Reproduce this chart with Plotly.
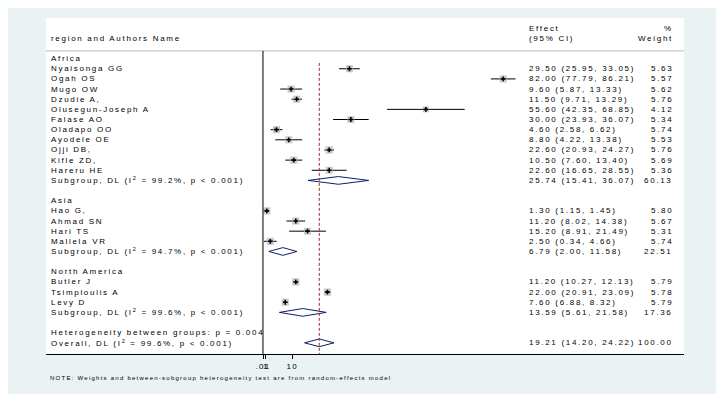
"""Forest plot: effect estimates by region (random-effects, DL)"""
import plotly.graph_objects as go

# ---- data ----
africa_names = ["Nyaisonga GG", "Ogah OS", "Mugo OW", "Dzudie A,", "Olusegun-Joseph A",
                "Falase AO", "Oladapo OO", "Ayodele OE", "Ojji DB,", "Kifle ZD,", "Hareru HE"]
africa_est = [29.50, 82.00, 9.60, 11.50, 55.60, 30.00, 4.60, 8.80, 22.60, 10.50, 22.60]
africa_lo = [25.95, 77.79, 5.87, 9.71, 42.35, 23.93, 2.58, 4.22, 20.93, 7.60, 16.65]
africa_hi = [33.05, 86.21, 13.33, 13.29, 68.85, 36.07, 6.62, 13.38, 24.27, 13.40, 28.55]
africa_wt = [5.63, 5.57, 5.62, 5.76, 4.12, 5.34, 5.74, 5.53, 5.76, 5.69, 5.36]

asia_names = ["Hao G,", "Ahmad SN", "Hari TS", "Mallela VR"]
asia_est = [1.30, 11.20, 15.20, 2.50]
asia_lo = [1.15, 8.02, 8.91, 0.34]
asia_hi = [1.45, 14.38, 21.49, 4.66]
asia_wt = [5.80, 5.67, 5.31, 5.74]

na_names = ["Butler J", "Tsimploulis A", "Levy D"]
na_est = [11.20, 22.00, 7.60]
na_lo = [10.27, 20.91, 6.88]
na_hi = [12.13, 23.09, 8.32]
na_wt = [5.79, 5.78, 5.79]

region_names = ["Africa", "Asia", "North America"]
sub_labels = ["Subgroup, DL (I<sup>2</sup> = 99.2%, p < 0.001)",
              "Subgroup, DL (I<sup>2</sup> = 94.7%, p < 0.001)",
              "Subgroup, DL (I<sup>2</sup> = 99.6%, p < 0.001)"]
sub_est = [25.74, 6.79, 13.59]
sub_lo = [15.41, 2.00, 5.61]
sub_hi = [36.07, 11.58, 21.58]
sub_wt = [60.13, 22.51, 17.36]

overall_label = "Overall, DL (I<sup>2</sup> = 99.6%, p < 0.001)"
overall_est, overall_lo, overall_hi, overall_wt = 19.21, 14.20, 24.22, 100.00
het_text = "Heterogeneity between groups: p = 0.004"
note_text = "NOTE: Weights and between-subgroup heterogeneity test are from random-effects model"

tick_vals = [0.01, 1, 10]
tick_text = [".01", "1", "10"]

BG = "#eaf2f3"
FONT = "Liberation Sans"


def wide(s, sp=1.7):
    # stata-like loose letter spacing
    return f'<span style="letter-spacing:{sp}px">{s}</span>'


# ---- lay out rows ----
groups = [
    (africa_names, africa_est, africa_lo, africa_hi, africa_wt),
    (asia_names, asia_est, asia_lo, asia_hi, asia_wt),
    (na_names, na_est, na_lo, na_hi, na_wt),
]

study_y, study_e, study_l, study_h, study_w = [], [], [], [], []
labels = []   # (row, text)
effects = []  # (row, effect text, weight text)
diamonds = []  # (row, est, lo, hi)

row = 0
for g, (names, est, lo, hi, wt) in enumerate(groups):
    labels.append((row, region_names[g]))
    row += 1
    for n, e, l, h, w in zip(names, est, lo, hi, wt):
        labels.append((row, n))
        effects.append((row, f"{e:.2f} ({l:.2f}, {h:.2f})", f"{w:.2f}"))
        study_y.append(row)
        study_e.append(e)
        study_l.append(l)
        study_h.append(h)
        study_w.append(w)
        row += 1
    labels.append((row, sub_labels[g]))
    effects.append((row, f"{sub_est[g]:.2f} ({sub_lo[g]:.2f}, {sub_hi[g]:.2f})", f"{sub_wt[g]:.2f}"))
    diamonds.append((row, sub_est[g], sub_lo[g], sub_hi[g]))
    row += 2

labels.append((row, het_text))
row += 1
labels.append((row, overall_label))
effects.append((row, f"{overall_est:.2f} ({overall_lo:.2f}, {overall_hi:.2f})", f"{overall_wt:.2f}"))
diamonds.append((row, overall_est, overall_lo, overall_hi))

fig = go.Figure()

# confidence intervals
fig.add_trace(go.Scatter(
    x=study_e, y=study_y, mode="markers",
    marker=dict(size=1, color="rgba(0,0,0,0)"),
    error_x=dict(type="data", symmetric=False,
                 array=[h - e for h, e in zip(study_h, study_e)],
                 arrayminus=[e - l for e, l in zip(study_e, study_l)],
                 color="black", thickness=1, width=0),
    hoverinfo="skip", showlegend=False,
))
# weight boxes
fig.add_trace(go.Scatter(
    x=study_e, y=study_y, mode="markers",
    marker=dict(symbol="square", size=[3.0 * w ** 0.5 for w in study_w],
                color="#b4b4b4", line=dict(width=0)),
    hoverinfo="skip", showlegend=False,
))
# point estimates
fig.add_trace(go.Scatter(
    x=study_e, y=study_y, mode="markers",
    marker=dict(symbol="cross", size=4, color="black", line=dict(width=0)),
    hoverinfo="skip", showlegend=False,
))
# pooled diamonds
for r, e, l, h in diamonds:
    fig.add_trace(go.Scatter(
        x=[l, e, h, e, l], y=[r, r - 0.38, r, r + 0.38, r],
        mode="lines", fill="toself", fillcolor="white",
        line=dict(color="#0d1c6b", width=1),
        hoverinfo="skip", showlegend=False,
    ))

# header rule
fig.add_shape(type="line", xref="paper", yref="y", x0=0, x1=1, y0=-0.76, y1=-0.76,
              line=dict(color="#b8b8b8", width=1))
# null line
fig.add_shape(type="line", xref="x", yref="y", x0=0, x1=0, y0=-0.76, y1=29.1,
              line=dict(color="black", width=1))
# overall effect line
fig.add_shape(type="line", xref="x", yref="y", x0=overall_est, x1=overall_est,
              y0=0.42, y1=29.1, line=dict(color="#9e2a2f", width=1, dash="3px,2px"))

ann_font = dict(family=FONT, size=8, color="black")
X_LABEL, X_EFFECT, X_WEIGHT = 0.006, 0.755, 0.985


def add_text(x, y, text, anchor="left", font=ann_font, yref="y", sp=1.7):
    fig.add_annotation(x=x, y=y, xref="paper", yref=yref, text=wide(text, sp),
                       showarrow=False, xanchor=anchor, yanchor="middle",
                       font=font, borderpad=0)


add_text(X_LABEL, -1.97, "region and Authors Name")
add_text(X_EFFECT, -2.96, "Effect")
add_text(X_EFFECT, -1.97, "(95% CI)")
add_text(X_WEIGHT, -2.96, "%", anchor="right")
add_text(X_WEIGHT, -1.97, "Weight", anchor="right")

for r, t in labels:
    add_text(X_LABEL, r, t)
for r, et, wt in effects:
    add_text(X_EFFECT, r, et)
    add_text(X_WEIGHT, r, wt, anchor="right")

add_text(0.005, -0.0705, note_text, font=dict(family=FONT, size=6, color="black"),
         yref="paper", sp=1.25)

# figure sits inside the page's 8px body margin
fig.update_layout(
    width=708, height=386,
    margin=dict(l=38, r=32, t=10, b=40),
    paper_bgcolor=BG, plot_bgcolor="white",
    font=dict(family=FONT, size=8, color="black"),
    showlegend=False,
    xaxis=dict(range=[-74.06, 143.7], showgrid=False, zeroline=False,
               showline=True, linecolor="black", linewidth=1,
               ticks="outside", ticklen=4, tickcolor="black", tickwidth=1,
               tickangle=0, tickvals=tick_vals,
               ticktext=[wide(t, 1.2) for t in tick_text],
               tickfont=dict(family=FONT, size=8)),
    yaxis=dict(range=[29.1, -4.0], visible=False, showgrid=False, zeroline=False),
)

fig.write_html("out.html")
